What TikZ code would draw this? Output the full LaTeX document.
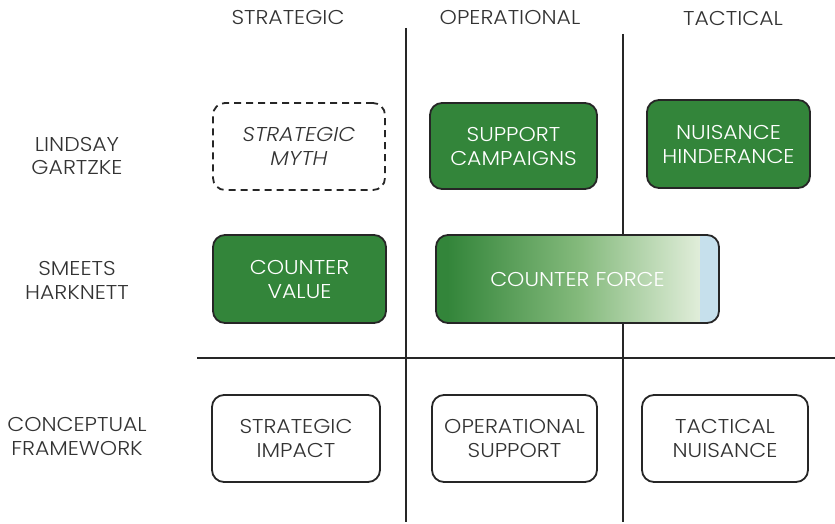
\documentclass[tikz,border=0pt]{standalone}
\usepackage{fontspec}
\setmainfont{Poppins}[UprightFont={* Light}, ItalicFont={* Light Italic}, FakeStretch=1.1]
\definecolor{dg}{HTML}{33853A}
\definecolor{mg}{HTML}{83B97B}
\definecolor{lw}{HTML}{E0EDD9}
\definecolor{lb}{HTML}{C6E0EC}
\definecolor{txt}{HTML}{333333}
\pgfdeclarehorizontalshading{cforce}{100bp}{color(0bp)=(dg); color(27bp)=(dg); color(50bp)=(mg); color(71.5bp)=(lw); color(71.6bp)=(lb); color(100bp)=(lb)}
\tikzset{
  lbl/.style={text=txt, align=center, font=\fontsize{20}{24}\selectfont},
  boxbase/.style={rounded corners=12pt, line width=1.8pt, draw=black!85, align=center, font=\fontsize{20}{24}\selectfont, inner sep=0pt},
  greenbox/.style={boxbase, fill=dg, text=white},
  whitebox/.style={boxbase, fill=white, text=txt},
  mythbox/.style={boxbase, dash pattern=on 7pt off 5pt, text=txt, font=\fontsize{20}{24}\selectfont\itshape},
  gridline/.style={line width=2.4pt, draw=black!85}
}
\begin{document}
\begin{tikzpicture}[x=1pt,y=-1pt]
\useasboundingbox (0,0) rectangle (835,524);
% grid lines
\coordinate (v1t) at (406,28); \coordinate (v1b) at (406,522);
\coordinate (v2t) at (623,34); \coordinate (v2b) at (623,522);
\coordinate (hl) at (197,358); \coordinate (hr) at (835,358);
\draw[gridline] (v1t) -- (v1b);
\draw[gridline] (v2t) -- (v2b);
\draw[gridline] (hl) -- (hr);
% headers
\node[lbl] (hs) at (288,18) {STRATEGIC};
\node[lbl] (ho) at (510,18) {OPERATIONAL};
\node[lbl] (ht) at (733,18) {TACTICAL};
% row labels
\node[lbl] (rl) at (77,156) {LINDSAY\\GARTZKE};
\node[lbl] (rs) at (77,280) {SMEETS\\HARKNETT};
\node[lbl] (rc) at (77,436) {CONCEPTUAL\\FRAMEWORK};
% row 1
\node[mythbox, minimum width=172pt, minimum height=87pt] (myth) at (299,146.5) {STRATEGIC\\MYTH};
\node[greenbox, minimum width=167pt, minimum height=86pt] (supp) at (513.5,146) {SUPPORT\\CAMPAIGNS};
\node[greenbox, minimum width=163pt, minimum height=88pt] (nuis) at (728.5,144) {NUISANCE\\HINDERANCE};
% row 2
\node[greenbox, minimum width=173pt, minimum height=88pt] (cval) at (299.5,279) {COUNTER\\VALUE};
\node[boxbase, shading=cforce, text=white, minimum width=283pt, minimum height=88pt] (cforce) at (577.5,279) {COUNTER FORCE};
% row 3
\node[whitebox, minimum width=168pt, minimum height=87pt] (simp) at (296,438.5) {STRATEGIC\\IMPACT};
\node[whitebox, minimum width=165pt, minimum height=87pt] (osup) at (514.5,438.5) {OPERATIONAL\\SUPPORT};
\node[whitebox, minimum width=166pt, minimum height=87pt] (tnui) at (725,438.5) {TACTICAL\\NUISANCE};
\end{tikzpicture}
\end{document}
